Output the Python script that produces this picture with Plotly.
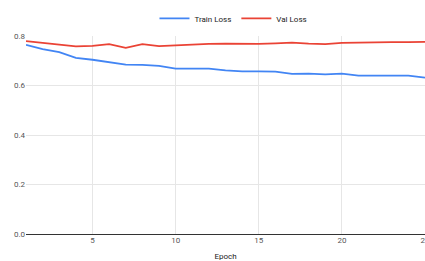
import plotly.graph_objects as go

epochs = list(range(1, 26))
train_loss = [0.764, 0.747, 0.735, 0.712, 0.704, 0.695, 0.684, 0.683, 0.679, 0.668,
              0.668, 0.668, 0.661, 0.657, 0.657, 0.656, 0.647, 0.648, 0.645, 0.648,
              0.640, 0.639, 0.638, 0.640, 0.632]
val_loss = [0.779, 0.772, 0.767, 0.758, 0.760, 0.767, 0.752, 0.767, 0.759, 0.763,
            0.766, 0.768, 0.769, 0.767, 0.768, 0.770, 0.773, 0.769, 0.767, 0.772,
            0.774, 0.776, 0.775, 0.775, 0.776]
y_ticks = [0.0, 0.2, 0.4, 0.6, 0.8]
x_ticks = [5, 10, 15, 20, 25]

fig = go.Figure()
fig.add_trace(go.Scatter(x=epochs, y=train_loss, mode="lines", name="Train Loss",
                         line=dict(color="#4285F4", width=1.8)))
fig.add_trace(go.Scatter(x=epochs, y=val_loss, mode="lines", name="Val Loss",
                         line=dict(color="#EA4335", width=1.8)))

fig.update_layout(
    width=425, height=261,
    margin=dict(l=26, r=0, t=36, b=27),
    paper_bgcolor="white", plot_bgcolor="white",
    font=dict(family="Roboto, Arial, sans-serif", size=8, color="#555"),
    legend=dict(orientation="h", x=0.52, xanchor="center", y=0.985, yanchor="top",
                yref="container", font=dict(size=8, color="#222")),
    showlegend=True,
)
fig.update_xaxes(range=[1, 25], tickvals=x_ticks, showgrid=True, gridcolor="#e6e6e6",
                 zeroline=False, showline=False, ticks="", automargin=False,
                 ticklabeloverflow="allow",
                 title=dict(text="Epoch", font=dict(size=8, color="#222"), standoff=12))
fig.update_yaxes(range=[0, 0.8], tickvals=y_ticks, tickformat=".1f", showgrid=True,
                 gridcolor="#e6e6e6", zeroline=True, zerolinecolor="#333", zerolinewidth=1,
                 showline=False, ticks="", automargin=False)

fig.write_html("out.html", config={"displayModeBar": False},
               post_script="document.body.style.margin='0';document.body.style.overflow='hidden';")
